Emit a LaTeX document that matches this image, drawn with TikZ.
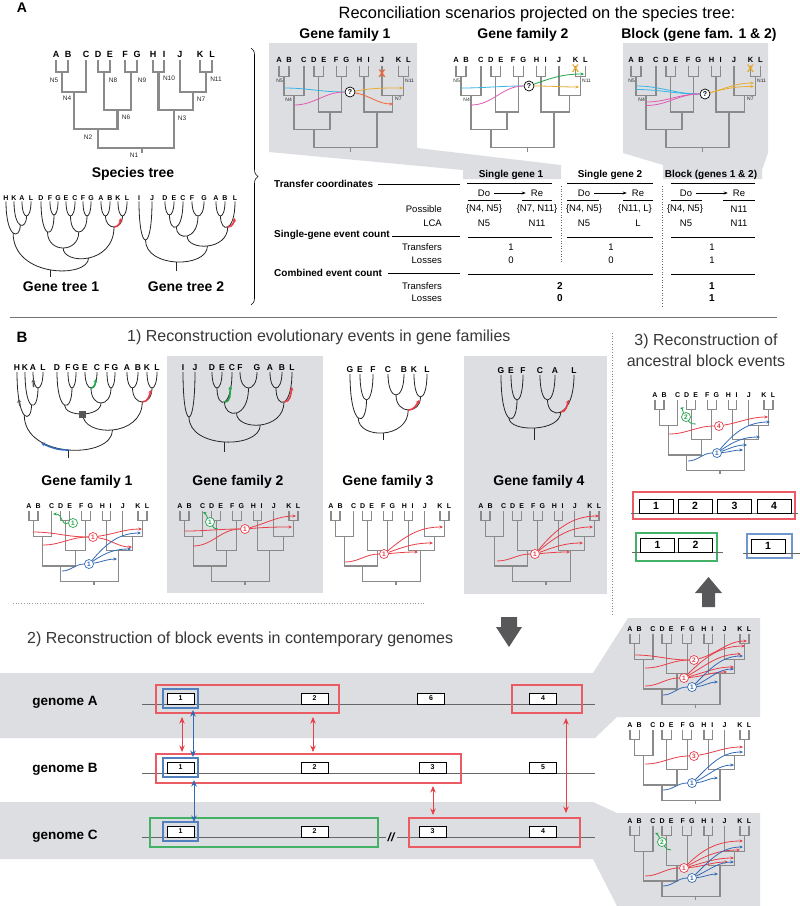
\documentclass[tikz,border=0pt]{standalone}
\usepackage{fontspec}
\setmainfont{Liberation Sans}
\usetikzlibrary{arrows.meta,calc,decorations.pathreplacing}
\newcommand\myfs[1]{\fontsize{#1}{#1}\selectfont}
\definecolor{bg}{RGB}{221,222,226}
\definecolor{tg}{RGB}{138,138,138}
\definecolor{rd}{RGB}{232,62,72}
\definecolor{bl}{RGB}{50,105,180}
\definecolor{gn}{RGB}{35,165,75}
\definecolor{cy}{RGB}{55,180,230}
\definecolor{mg}{RGB}{225,90,175}
\definecolor{yl}{RGB}{232,172,48}
\definecolor{orx}{RGB}{240,100,55}
\definecolor{dk}{RGB}{88,88,90}
\definecolor{tx}{RGB}{55,55,55}
\newcounter{tcc}
\newcommand\tin[3]{\stepcounter{tcc}\coordinate (tc\arabic{tcc}) at (#2);\draw[tl=#1] (tc\arabic{tcc}) to[out=0,in=180] (#3);}
\newcommand\tout[4][0]{\stepcounter{tcc}\coordinate (tc\arabic{tcc}) at (#4);\draw[ta=#2] (#3) to[out=#1,in=180] (tc\arabic{tcc});}
\newcommand\gj[4]{%
  \draw[gtr] let \p1=(#1),\p2=(#2),\n1={(-4*#3-(\y1+\y2)/2)/3} in
    (#1) .. controls (\x1,{\n1*1pt}) and (\x2,{\n1*1pt}) .. (#2);
  \path let \p1=(#1),\p2=(#2) in ({(\x1+\x2)/2},{-#3pt}) coordinate (#4);}
\newcommand\sptree[7]{%
 \begin{scope}[shift={(#2,#3)},xscale=#4,yscale=#5]
  \draw[#6] (0,6)--(0,18)--(12,18)--(12,6);
  \draw[#6] (6,18)--(6,38)--(30,38)--(30,6);
  \draw[#6] (42,6)--(42,18)--(54,18)--(54,6);
  \draw[#6] (69,6)--(69,18)--(81,18)--(81,6);
  \draw[#6] (48,18)--(48,56)--(75,56)--(75,18);
  \draw[#6] (18,38)--(18,75)--(61.5,75)--(61.5,56);
  \draw[#6] (97,6)--(97,18)--(108,18)--(108,6);
  \draw[#6] (144,6)--(144,18)--(156,18)--(156,6);
  \draw[#6] (124,6)--(124,38)--(150,38)--(150,18);
  \draw[#6] (102.5,18)--(102.5,56)--(137,56)--(137,38);
  \draw[#6] (42,75)--(42,94)--(118,94)--(118,56);
  \draw[#6] (86,94)--(86,99);
  \foreach \lnm/\lxx in {A/0,B/12,C/30,D/42,E/54,F/69,G/81,H/97,I/108,J/124,K/144,L/156}
    \node[font=\bfseries\myfs{#7},inner sep=0pt] (#1\lnm) at (\lxx,0) {\lnm};
 \end{scope}}
\begin{document}
\begin{tikzpicture}[x=1pt,y=-1pt,
  bigT/.style={draw=tg,line width=2.2pt},
  smT/.style={draw=tg,line width=1.3pt},
  gtr/.style={draw=black!85,line width=0.8pt},
  gla/.style={font=\bfseries\myfs{7},inner sep=0.8pt},
  glb/.style={font=\bfseries\myfs{8.5},inner sep=0.8pt},
  nl/.style={font=\myfs{6.5},inner sep=0pt,text=black!85},
  nls/.style={font=\myfs{5},inner sep=0pt,text=black!85},
  ttl/.style={font=\bfseries\myfs{14},inner sep=0pt},
  sec/.style={font=\myfs{16},text=tx,inner sep=0pt},
  tb/.style={font=\myfs{9.5},inner sep=0pt},
  tbb/.style={font=\bfseries\myfs{10},inner sep=0pt},
  rule/.style={draw=black,line width=0.5pt},
  tl/.style={draw=#1,line width=0.8pt},
  ta/.style={draw=#1,line width=0.8pt,-{Stealth[length=3.5pt,width=3pt]}},
  ev/.style={circle,draw=#1,text=#1,fill=white,line width=0.7pt,inner sep=0pt,minimum size=9pt,font=\bfseries\myfs{6.5}},
  qm/.style={circle,draw=black,fill=white,line width=0.7pt,inner sep=0pt,minimum size=10pt,font=\bfseries\myfs{7}},
  xm/.style={font=\bfseries\myfs{11},text=#1,inner sep=0pt},
  gb/.style={draw=black,fill=white,line width=0.6pt,minimum width=27pt,minimum height=11pt,inner sep=0pt,font=\bfseries\myfs{7}},
  bbx/.style={draw=black,fill=white,line width=0.8pt,minimum width=34pt,minimum height=14pt,inner sep=0pt,font=\bfseries\myfs{10.5}},
  gl/.style={font=\bfseries\myfs{13.5},inner sep=0pt},
  rr/.style={draw=#1,line width=1.2pt},
  da/.style={draw=#1,line width=0.9pt,{Stealth[length=6.5pt,width=5.5pt]}-{Stealth[length=6.5pt,width=5.5pt]}},
  hl/.style={draw=black!60,line width=0.7pt},
  evarr/.style={draw=#1,line width=1.6pt,-{Stealth[length=3.5pt,width=4pt]}}
]
\useasboundingbox (0,0) rectangle (800,906);
\fill[white] (0,0) rectangle (800,906);

% ---------------- backgrounds
\fill[bg] (269,43) -- (417,43) -- (417,148) -- (561,165) -- (561,179) -- (463,179) -- (463,170) -- (269,152) -- cycle;
\fill[bg] (623,43) -- (768,43) -- (768,153) -- (762,170) -- (762,179) -- (663,179) -- (663,165) -- (623,153) -- cycle;
\fill[bg] (167,356) rectangle (323,593);
\fill[bg] (464,356) rectangle (607,594);
\fill[bg] (0,673) -- (593,673) -- (628,618) -- (760,618) -- (760,717) -- (617,717) -- (595,738) -- (0,738) -- cycle;
\fill[bg] (0,802) -- (593,802) -- (617,813) -- (760,813) -- (760,906) -- (617,906) -- (593,859) -- (0,859) -- cycle;

% ---------------- panel A
\node[font=\bfseries\myfs{14},inner sep=0pt] (lblA) at (22,8) {A};
\node[font=\myfs{16.4},inner sep=0pt] (titleA) at (537,14) {Reconciliation scenarios projected on the species tree:};

\sptree{S}{56}{54}{1}{1}{bigT}{9}
\node[nl] (sN5) at (54,80) {N5};
\node[nl] (sN8) at (113,80) {N8};
\node[nl] (sN9) at (142,80) {N9};
\node[nl] (sN10) at (169,78) {N10};
\node[nl] (sN11) at (216,79) {N11};
\node[nl] (sN4) at (67,98) {N4};
\node[nl] (sN7) at (201,99) {N7};
\node[nl] (sN6) at (126,117) {N6};
\node[nl] (sN3) at (182,118) {N3};
\node[nl] (sN2) at (88,137) {N2};
\node[nl] (sN1) at (134,155) {N1};
\node[ttl] (spt) at (133,174) {Species tree};

\draw[decorate,decoration={brace,amplitude=7pt},line width=0.6pt] (251,48) -- (251,305);

% gene tree 1 (A)
\foreach \nm/\xx/\lbl in {1/6/H,2/14/K,3/22/A,4/31/L,5/41/D,6/50/F,7/58/G,8/66/E,9/75/C,10/83/F,11/91/G,12/101/A,13/110/B,14/118/K,15/127/L}
  \node[gla] (u\nm) at (\xx,198) {\lbl};
\gj{u3.south}{u4.south}{216}{j1}
\gj{u2.south}{j1}{225}{j2}
\gj{u1.south}{j2}{233}{j3}
\gj{u6.south}{u7.south}{215}{j4}
\gj{u5.south}{j4}{232}{j5}
\gj{u8.south}{u9.south}{216}{j6}
\gj{u10.south}{u11.south}{216}{j7}
\gj{j6}{j7}{232}{j8}
\gj{j5}{j8}{248}{j9}
\gj{u12.south}{u13.south}{216}{j10}
\gj{u14.south}{u15.south}{216}{j11}
\gj{j10}{j11}{227}{j12}
\gj{j9}{j12}{258}{j13}
\gj{j3}{j13}{270}{j14}
\coordinate (j14r) at ($(j14)+(0,7)$);
\draw[gtr] (j14) -- (j14r);
\coordinate (j12a) at ($(j12)+(7,-9)$);
\draw[evarr=rd] (j12) to[out=0,in=-100] (j12a);
\node[ttl] (gt1) at (61,287) {Gene tree 1};

% gene tree 2 (A)
\foreach \nm/\xx/\lbl in {1/139/I,2/152/J,3/165/D,4/174/E,5/183/C,6/192/F,7/204/G,8/216/A,9/225/B,10/235/L}
  \node[gla] (v\nm) at (\xx,198) {\lbl};
\gj{v1.south}{v2.south}{240}{k1}
\gj{v3.south}{v4.south}{215}{k2}
\gj{k2}{v5.south}{227}{k3}
\gj{v6.south}{v7.south}{216}{k4}
\gj{k3}{k4}{236}{k5}
\gj{v8.south}{v9.south}{216}{k6}
\gj{k6}{v10.south}{227}{k7}
\gj{k5}{k7}{246}{k8}
\gj{k1}{k8}{262}{k9}
\coordinate (k9r) at ($(k9)+(0,9)$);
\draw[gtr] (k9) -- (k9r);
\coordinate (k7a) at ($(k7)+(7,-9)$);
\draw[evarr=rd] (k7) to[out=0,in=-100] (k7a);
\node[ttl] (gt2) at (186,287) {Gene tree 2};

% top-row titles and trees
\node[ttl] (tf1) at (345,35) {Gene family 1};
\node[ttl] (tf2) at (523,35) {Gene family 2};
\node[ttl] (tf3) at (699,35) {Block (gene fam. 1 \& 2)};
\sptree{Ta}{279}{60}{0.83}{0.93}{smT}{7.5}
\sptree{Tb}{456}{60}{0.83}{0.93}{smT}{7.5}
\sptree{Tc}{631}{60}{0.83}{0.93}{smT}{7.5}
\node[nls,anchor=east] (aN5) at (283,81) {N5};
\node[nls,anchor=east] (aN4) at (292,100) {N4};
\node[nls,anchor=west] (aN11) at (405,81) {N11};
\node[nls,anchor=west] (aN7) at (395,99) {N7};
\node[nls,anchor=east] (bN5) at (460,81) {N5};
\node[nls,anchor=east] (bN4) at (470,100) {N4};
\node[nls,anchor=west] (bN11) at (582,81) {N11};
\node[nls,anchor=east] (cN5) at (635,81) {N5};
\node[nls,anchor=east] (cN4) at (645,100) {N4};
\node[nls,anchor=west] (cN11) at (757,81) {N11};
\node[nls,anchor=west] (cN7) at (747,99) {N7};

\node[qm] (qm1) at (350,92) {?};
\tin{cy}{284,88}{qm1}
\tin{mg}{294,105}{qm1}
\tout[10]{yl}{qm1}{403,88}
\tout[-10]{orx}{qm1}{393,104}
\node[xm=orx] (X1) at (382,74) {X};

\node[qm] (qm2) at (529,86) {?};
\tin{cy}{461,88}{qm2}
\tin{mg}{471,105}{qm2}
\tout[20]{gn}{qm2}{584,74}
\tout{yl}{qm2}{579,87}
\node[xm=yl] (X2) at (575.5,69) {X};

\node[qm] (qm3) at (705,94) {?};
\tin{cy}{636,86}{qm3}
\tin{cy}{636,89.5}{qm3}
\tin{mg}{646,102}{qm3}
\tin{mg}{646,105.5}{qm3}
\tout[15]{yl}{qm3}{754,83}
\tout[15]{yl}{qm3}{754,86.5}
\node[xm=yl] (X3) at (750.5,69) {X};

% table
\node[tbb] (h1) at (511,175) {Single gene 1};
\node[tbb] (h2) at (610,175) {Single gene 2};
\node[tbb] (h3) at (711,175) {Block (genes 1 \& 2)};
\foreach \a/\b in {467/552,567/653,671/755} \draw[rule] (\a,183)--(\b,183);
\node[tbb,anchor=west] (rTC) at (274,184) {Transfer coordinates};
\draw[rule] (378,184)--(460,184);
\foreach \i/\d/\r in {1/484/537,2/584/638,3/686/739}{
  \node[tb] (do\i) at (\d,193) {Do};
  \node[tb] (re\i) at (\r,193) {Re};
  \draw[line width=0.5pt,-{Stealth[length=4pt,width=3pt]},shorten <=4pt,shorten >=5pt] (do\i) -- (re\i);}
\foreach \a/\b in {468/501,522/552,567/599,623/653,671/702,723/755} \draw[rule] (\a,200.5)--(\b,200.5);
\node[tb,anchor=east] (rPo) at (442,209) {Possible};
\node[tb] (p11) at (484,209) {\{N4, N5\}};
\node[tb] (p12) at (537,209) {\{N7, N11\}};
\node[tb] (p21) at (584,209) {\{N4, N5\}};
\node[tb] (p22) at (635,209) {\{N11, L\}};
\node[tb] (p31) at (685,209) {\{N4, N5\}};
\node[tb] (p32) at (739,209) {N11};
\node[tb,anchor=east] (rLC) at (442,223) {LCA};
\node[tb] (l11) at (484,223) {N5};
\node[tb] (l12) at (537,223) {N11};
\node[tb] (l21) at (584,223) {N5};
\node[tb] (l22) at (638,223) {L};
\node[tb] (l31) at (686,223) {N5};
\node[tb] (l32) at (739,223) {N11};
\node[tbb,anchor=west] (rSG) at (274,235) {Single-gene event count};
\draw[rule] (392,236)--(460,236);
\foreach \a/\b in {468/552,567/653,671/755} \draw[rule] (\a,237)--(\b,237);
\node[tb,anchor=east] (rT1) at (442,247) {Transfers};
\node[tb] (t1) at (511,247) {1};
\node[tb] (t2) at (611,247) {1};
\node[tb] (t3) at (712,247) {1};
\node[tb,anchor=east] (rL1) at (442,260) {Losses};
\node[tb] (o1) at (511,260) {0};
\node[tb] (o2) at (611,260) {0};
\node[tb] (o3) at (712,260) {1};
\node[tbb,anchor=west] (rCE) at (274,273) {Combined event count};
\draw[rule] (388,273)--(460,273);
\draw[rule] (468,274)--(653,274);
\draw[rule] (671,274)--(755,274);
\node[tb,anchor=east] (rT2) at (442,286) {Transfers};
\node[tbb] (ct1) at (560,286) {2};
\node[tbb] (ct2) at (712,286) {1};
\node[tb,anchor=east] (rL2) at (442,298) {Losses};
\node[tbb] (cl1) at (560,298) {0};
\node[tbb] (cl2) at (712,298) {1};
\draw[dotted,black!60,line width=0.6pt] (561,186) -- (561,263);
\draw[dotted,black!60,line width=0.6pt] (662,186) -- (662,307);

% ---------------- panel B
\draw[draw=black!55,line width=0.8pt] (10,317) -- (777,317);
\node[font=\bfseries\myfs{15},inner sep=0pt] (lblB) at (22,337) {B};
\node[sec,anchor=west] (sec1) at (127,337) {1) Reconstruction evolutionary events in gene families};
\node[font=\fontsize{16}{21}\selectfont,text=tx,inner sep=0pt,align=center] (sec3) at (706,350) {3) Reconstruction of\\ancestral block events};
\draw[dotted,black!50,line width=0.7pt] (612,333) -- (612,615);
\draw[dotted,black!40,line width=0.7pt] (13,603) -- (425,603);

% B gene family 1 gene tree
\foreach \nm/\xx/\lbl in {1/17/H,2/25/K,3/33/A,4/43/L,5/57/D,6/68/F,7/76/G,8/85/E,9/97/C,10/107/F,11/115/G,12/127/A,13/138/B,14/147/K,15/157/L}
  \node[glb] (w\nm) at (\xx,368) {\lbl};
\gj{w3.south}{w4.south}{388}{m1}
\gj{w2.south}{m1}{405}{m2}
\gj{w1.south}{m2}{415}{m3}
\gj{w6.south}{w7.south}{388}{m4}
\gj{w5.south}{m4}{405}{m5}
\gj{w8.south}{w9.south}{388}{m6}
\gj{w10.south}{w11.south}{388}{m7}
\gj{m6}{m7}{403}{m8}
\gj{m5}{m8}{414}{m9}
\gj{w12.south}{w13.south}{388}{m10}
\gj{w14.south}{w15.south}{388}{m11}
\gj{m10}{m11}{402}{m12}
\gj{m9}{m12}{430}{m13}
\gj{m3}{m13}{450}{m14}
\coordinate (m14r) at ($(m14)+(0,8)$);
\draw[gtr] (m14) -- (m14r);
\node[fill=dk,minimum size=7pt,inner sep=0pt] (sq) at (m9) {};
\coordinate (ga1s) at (33.6,387); \coordinate (ga1e) at (33.2,379);
\draw[evarr=dk] (ga1s) -- (ga1e);
\coordinate (ga2s) at (20.2,406); \coordinate (ga2e) at (18.4,399);
\draw[evarr=dk] (ga2s) -- (ga2e);
\coordinate (m6a) at ($(m6)+(5,-9)$);
\draw[evarr=gn] (m6) to[out=0,in=-100] (m6a);
\coordinate (m12a) at ($(m12)+(9,-12)$);
\draw[evarr=rd] (m12) to[out=0,in=-110] (m12a);
\coordinate (m14a) at ($(m14)+(-27,-7)$);
\draw[evarr=bl] (m14) to[out=180,in=-25] (m14a);

% B gene family 2 gene tree
\foreach \nm/\xx/\lbl in {1/183/I,2/195/J,3/212/D,4/222/E,5/232/C,6/240/F,7/257/G,8/270/A,9/282/B,10/292/L}
  \node[glb] (x\nm) at (\xx,368) {\lbl};
\gj{x1.south}{x2.south}{417}{n1}
\gj{x3.south}{x4.south}{388}{n2}
\gj{n2}{x5.south}{402}{n3}
\gj{x6.south}{x7.south}{388}{n4}
\gj{n3}{n4}{413}{n5}
\gj{x8.south}{x9.south}{388}{n6}
\gj{n6}{x10.south}{402}{n7}
\gj{n5}{n7}{425}{n8}
\gj{n1}{n8}{442}{n9}
\coordinate (n9r) at ($(n9)+(0,10)$);
\draw[gtr] (n9) -- (n9r);
\coordinate (n3a) at ($(n3)+(6,-16)$);
\draw[evarr=gn] (n3) to[out=0,in=-95] (n3a);
\coordinate (n7a) at ($(n7)+(8,-15)$);
\draw[evarr=rd] (n7) to[out=0,in=-100] (n7a);

% B gene family 3 gene tree
\foreach \nm/\xx/\lbl in {1/350/G,2/360/E,3/373/F,4/388/C,5/404/B,6/414/K,7/427/L}
  \node[glb] (y\nm) at (\xx,370) {\lbl};
\gj{y2.south}{y3.south}{400}{p1}
\gj{y1.south}{p1}{418}{p2}
\gj{y4.south}{y5.south}{395}{p3}
\gj{y6.south}{y7.south}{397}{p4}
\gj{p3}{p4}{410}{p5}
\gj{p2}{p5}{433}{p6}
\coordinate (p6r) at ($(p6)+(0,7)$);
\draw[gtr] (p6) -- (p6r);
\coordinate (p5a) at ($(p5)+(11,-10)$);
\draw[evarr=rd] (p5) to[out=0,in=-120] (p5a);

% B gene family 4 gene tree
\foreach \nm/\xx/\lbl in {1/501/G,2/511/E,3/523/F,4/540/C,5/555/A,6/574/L}
  \node[glb] (z\nm) at (\xx,371) {\lbl};
\gj{z2.south}{z3.south}{400}{q1}
\gj{z1.south}{q1}{418}{q2}
\gj{z4.south}{z5.south}{400}{q3}
\gj{q3}{z6.south}{412}{q4}
\gj{q2}{q4}{428}{q5}
\coordinate (q5r) at ($(q5)+(0,12)$);
\draw[gtr] (q5) -- (q5r);
\coordinate (q4a) at ($(q4)+(8,-12)$);
\draw[evarr=rd] (q4) to[out=0,in=-110] (q4a);

% B titles
\node[ttl] (bt1) at (87,482) {Gene family 1};
\node[ttl] (bt2) at (238,482) {Gene family 2};
\node[ttl] (bt3) at (388,482) {Gene family 3};
\node[ttl] (bt4) at (539,482) {Gene family 4};

% B species trees with events
\sptree{Ua}{29}{506}{0.756}{0.8}{smT}{7}
\sptree{Ub}{180}{506}{0.756}{0.8}{smT}{7}
\sptree{Uc}{331}{506}{0.756}{0.8}{smT}{7}
\sptree{Ud}{481}{506}{0.756}{0.8}{smT}{7}

\node[ev=gn] (e11g) at (73,523) {1};
\coordinate (e11gt) at (53,514);
\draw[ta=gn] (e11g.west) .. controls (60,526) and (64,514) .. (e11gt);
\node[ev=rd] (e11r) at (93,537) {1};
\tin{rd}{33,532}{e11r}
\tin{rd}{43,545}{e11r}
\tout[8]{rd}{e11r}{142,529}
\tout[-8]{rd}{e11r}{132,547}
\node[ev=bl] (e11b) at (89,564) {1};
\tin{bl}{62,571}{e11b}
\tout[50]{bl}{e11b}{141,533}
\tout[35]{bl}{e11b}{131,549}
\tout[10]{bl}{e11b}{117,559}

\node[ev=gn] (e21g) at (210,522) {1};
\coordinate (e21gt) at (203,512);
\draw[ta=gn] (e21g) to[out=120,in=-30] (e21gt);
\coordinate (e21gs) at (218,529);
\draw[tl=gn] (e21g) to[out=-60,in=180] (e21gs);
\node[ev=rd] (e21r) at (245,529) {1};
\tin{rd}{185,531}{e21r}
\tin{rd}{193,546}{e21r}
\tout[15]{rd}{e21r}{296,516}
\tout[5]{rd}{e21r}{292,527}

\node[ev=rd] (e31r) at (384,554) {1};
\tin{rd}{345,562}{e31r}
\tout[40]{rd}{e31r}{443,527}
\tout[20]{rd}{e31r}{433,543}
\tout[5]{rd}{e31r}{418,552}

\node[ev=rd] (e41r) at (535,554) {1};
\tin{rd}{497,561}{e41r}
\tout[50]{rd}{e41r}{599,516}
\tout[40]{rd}{e41r}{593,527}
\tout[20]{rd}{e41r}{583,543}
\tout[5]{rd}{e41r}{570,552}

% panel 3 tree and blocks
\sptree{V}{655}{395}{0.756}{0.8}{smT}{7}
\node[ev=gn] (p3g) at (686,417) {2};
\coordinate (p3gt) at (680,408);
\draw[ta=gn] (p3g) to[out=120,in=-10] (p3gt);
\coordinate (p3gs) at (696,424);
\draw[tl=gn] (p3g) to[out=-60,in=180] (p3gs);
\node[ev=rd] (p3r) at (719,426) {4};
\tin{rd}{669,434}{p3r}
\tout[10]{rd}{p3r}{768,417}
\node[ev=bl] (p3b) at (717,453) {1};
\tin{bl}{688,461}{p3b}
\tout[50]{bl}{p3b}{770,422}
\tout[35]{bl}{p3b}{760,437}
\tout[20]{bl}{p3b}{747,445}
\tout[5]{bl}{p3b}{743,450}

\draw[rr=rd!85] (633,492) rectangle (795,519);
\draw[hl] (631,513) -- (798,513);
\node[bbx] (P1) at (656,506) {1};
\node[bbx] (P2) at (695,506) {2};
\node[bbx] (P3) at (734.5,506) {3};
\node[bbx] (P4) at (774,506) {4};
\draw[rr=gn!85] (636,533) rectangle (717,561);
\draw[hl] (632,552) -- (723,552);
\node[bbx] (Q1) at (657.5,545) {1};
\node[bbx] (Q2) at (695.5,545) {2};
\draw[rr=bl!70] (747,534) rectangle (792,558);
\draw[hl] (743,553) -- (800,553);
\node[bbx] (R1) at (768,546) {1};

\fill[dk] (702,607) -- (715,607) -- (715,593) -- (722,593) -- (708.5,577) -- (695,593) -- (702,593) -- cycle;

% ---------------- section 2
\node[sec,anchor=west] (sec2) at (27,639) {2) Reconstruction of block events in contemporary genomes};
\fill[dk] (501,617) -- (517,617) -- (517,627) -- (522,627) -- (509,647) -- (496,627) -- (501,627) -- cycle;

\node[gl] (gA) at (65,702) {genome A};
\node[gl] (gB) at (65,769) {genome B};
\node[gl] (gC) at (65,836) {genome C};

\draw[hl] (142,704) -- (595,704);
\draw[hl] (142,773) -- (595,773);
\draw[hl] (142,837) -- (386,837);
\draw[hl] (397,837) -- (595,837);
\node[font=\bfseries\itshape\myfs{12},inner sep=0pt] (brk) at (391,837) {//};

\draw[rr=rd!85] (156,685) rectangle (339,713);
\draw[rr=bl!85] (163,689) rectangle (198,708);
\draw[rr=rd!85] (512,685) rectangle (582,713);
\node[gb] (A1) at (180.5,698.5) {1};
\node[gb] (A2) at (314.5,698.5) {2};
\node[gb] (A6) at (431,698.5) {6};
\node[gb] (A4) at (543,698.5) {4};

\draw[rr=rd!85] (156,754) rectangle (461,783);
\draw[rr=bl!85] (163,758) rectangle (198,777);
\node[gb] (B1) at (180.5,767.5) {1};
\node[gb] (B2) at (314.5,767.5) {2};
\node[gb] (B3) at (432.5,767.5) {3};
\node[gb] (B5) at (543,767.5) {5};

\draw[rr=gn!85] (150,818) rectangle (378,847);
\draw[rr=bl!85] (163,822) rectangle (198,841);
\draw[rr=rd!85] (409,818) rectangle (580,847);
\node[gb] (C1) at (180.5,831.5) {1};
\node[gb] (C2) at (314.5,831.5) {2};
\node[gb] (C3) at (432.5,831.5) {3};
\node[gb] (C4) at (543,831.5) {4};

\coordinate (d1a) at (182,717); \coordinate (d1b) at (182,752);
\coordinate (d2a) at (193,710); \coordinate (d2b) at (193,757);
\coordinate (d3a) at (313,717); \coordinate (d3b) at (313,752);
\coordinate (d4a) at (194,780); \coordinate (d4b) at (194,822);
\coordinate (d5a) at (433,786); \coordinate (d5b) at (433,815);
\coordinate (d6a) at (566,718); \coordinate (d6b) at (566,813);
\draw[da=rd] (d1a) -- (d1b);
\draw[da=bl] (d2a) -- (d2b);
\draw[da=rd] (d3a) -- (d3b);
\draw[da=bl] (d4a) -- (d4b);
\draw[da=rd] (d5a) -- (d5b);
\draw[da=rd] (d6a) -- (d6b);

% genome trees
\sptree{Wa}{630}{629}{0.763}{0.8}{smT}{7}
\node[ev=rd] (ga2) at (694,660) {2};
\tin{rd}{635,655}{ga2}
\tin{rd}{645,668}{ga2}
\tout[15]{rd}{ga2}{747,641}
\node[ev=rd] (ga1) at (684,678) {1};
\tin{rd}{645,686}{ga1}
\tout[45]{rd}{ga1}{745,646}
\tout[30]{rd}{ga1}{741,654}
\tout[15]{rd}{ga1}{734,667}
\tout[5]{rd}{ga1}{727,672}
\node[ev=bl] (gab) at (692,687) {1};
\tin{bl}{663,695}{gab}
\tout[45]{bl}{gab}{743,656}
\tout[25]{bl}{gab}{734,669}
\tout[5]{bl}{gab}{718,682}

\sptree{Wb}{630}{725}{0.763}{0.8}{smT}{7}
\node[ev=rd] (gb3) at (694,756) {3};
\tin{rd}{645,764}{gb3}
\tout[10]{rd}{gb3}{743,747}
\node[ev=bl] (gbb) at (692,783) {1};
\tin{bl}{663,790}{gbb}
\tout[45]{bl}{gbb}{743,752}
\tout[25]{bl}{gbb}{734,765}
\tout[5]{bl}{gbb}{718,778}

\sptree{Wc}{630}{821}{0.763}{0.8}{smT}{7}
\node[ev=gn] (gcg) at (662,842) {2};
\coordinate (gcgt) at (655,833);
\draw[ta=gn] (gcg) to[out=120,in=-20] (gcgt);
\coordinate (gcgs) at (671,850);
\draw[tl=gn] (gcg) to[out=-60,in=180] (gcgs);
\node[ev=rd] (gc1) at (684,868) {1};
\tin{rd}{645,876}{gc1}
\tout[45]{rd}{gc1}{743,841}
\tout[30]{rd}{gc1}{740,850}
\tout[15]{rd}{gc1}{734,858}
\tout[5]{rd}{gc1}{728,862}
\node[ev=bl] (gcb) at (692,878) {1};
\tin{bl}{663,886}{gcb}
\tout[45]{bl}{gcb}{743,847}
\tout[25]{bl}{gcb}{734,862}
\tout[5]{bl}{gcb}{718,874}
\end{tikzpicture}
\end{document}
